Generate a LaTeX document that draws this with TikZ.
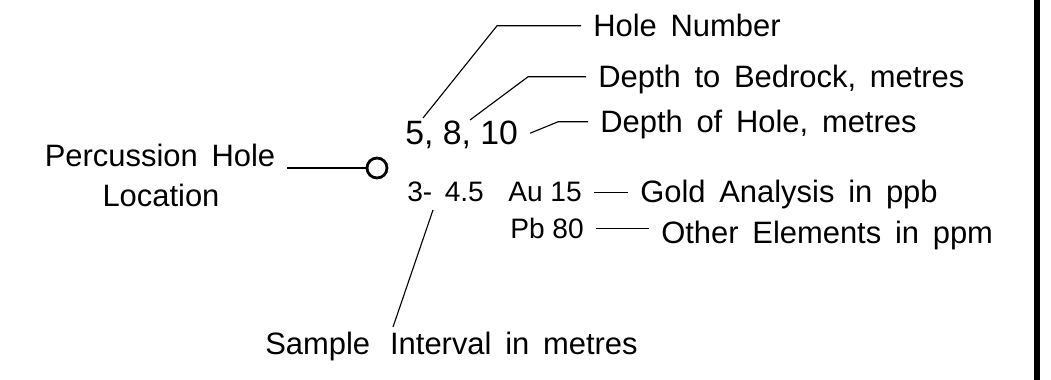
\documentclass[tikz,border=0pt]{standalone}
\usepackage{fontspec}
\setmainfont[WordSpace=1.6]{Liberation Sans}
\newfontfamily\numfont{Liberation Sans}
\usepackage{tikz}
\usetikzlibrary{positioning, calc}

\tikzset{
lbl/.style={font=\fontsize{22}{26}\selectfont, anchor=base west, inner xsep=0.3cm, inner ysep=0pt, text depth=0pt},
val/.style={font=\numfont\fontsize{20}{24}\selectfont, anchor=base west, inner xsep=0.3cm, inner ysep=0pt, text depth=0pt},
lead/.style={line width=0.8pt}
}

\begin{document}
\begin{tikzpicture}

\useasboundingbox (0,0) rectangle (26.275,9.5);

% -------- Right frame edge --------
\fill (25.85,0) rectangle (26.0,9.5);

% -------- Hole symbol --------
\node[circle, draw, line width=2pt, minimum size=0.5cm, inner sep=0pt] (hole) at (9.425,5.3) {};
\node[lbl, anchor=base] (perc) at (4.0,5.325) {Percussion Hole};
\node[lbl, anchor=base] (loc) at (4.025,4.325) {Location};
\draw[lead] (hole.west) -- (hole.west -| perc.east);

% -------- Numbers beside the hole --------
\node[val, font=\numfont\fontsize{24}{28}\selectfont] (nums) at (9.825,5.875) {5, 8, 10};
\node[val, font=\fontsize{20}{24}\selectfont] (interval) at (9.875,4.45) {3- 4.5};
\node[val] (au) at (12.4,4.45) {Au 15};
\node[val] (pb) at (12.45,3.525) {Pb 80};

% -------- Explanations --------
\node[lbl] (holenum) at (14.525,8.575) {Hole Number};
\node[lbl] (bedrock) at (14.65,7.3) {Depth to Bedrock, metres};
\node[lbl] (depth) at (14.7,6.175) {Depth of Hole, metres};
\node[lbl] (gold) at (15.7,4.425) {Gold Analysis in ppb};
\node[lbl] (other) at (16.225,3.4) {Other Elements in ppm};
\node[lbl] (sample) at (6.325,0.625) {Sample\hspace{0.5cm}Interval in metres};

% -------- Leaders --------
\coordinate (c5) at (10.575,6.55);
\coordinate (c8) at (11.75,6.5);
\coordinate (c45) at (10.825,4.25);
\coordinate (cs) at (9.825,1.325);

\draw[lead] (c5) -- ([xshift=-2.1cm]holenum.west) -- (holenum.west);
\draw[lead] (c8) -- ([xshift=-1.45cm]bedrock.west) -- (bedrock.west);
\draw[lead] (nums.east) -- ([xshift=-0.75cm]depth.west) -- (depth.west);
\draw[lead] (au.east) -- (au.east -| gold.west);
\draw[lead] (pb.east) -- (pb.east -| other.west);
\draw[lead] (c45) -- (cs);

\end{tikzpicture}
\end{document}
